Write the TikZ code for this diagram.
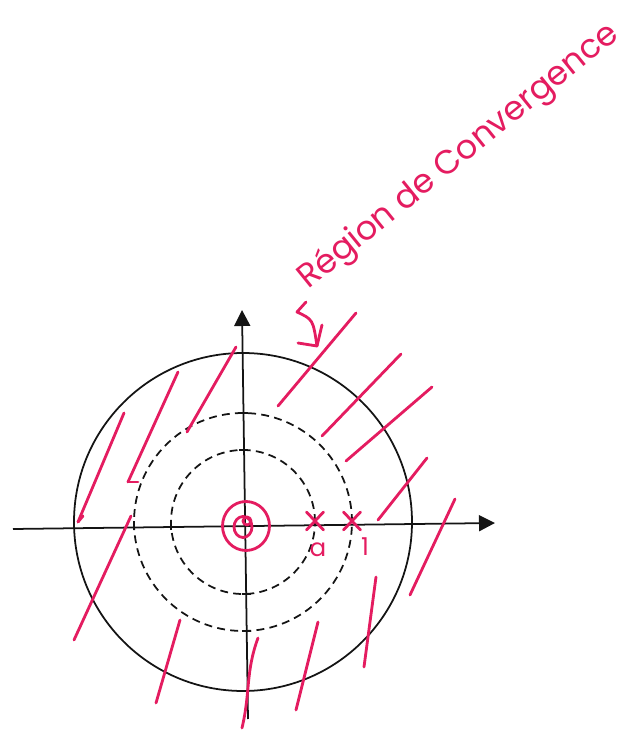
\documentclass[tikz,border=0pt]{standalone}
\usepackage{fontspec}
\newfontfamily\handfont{Poppins}
\usetikzlibrary{arrows.meta, positioning, calc}
\definecolor{inkpink}{RGB}{228, 28, 96}
\definecolor{penblack}{RGB}{20, 20, 20}
\tikzset{
    axisline/.style={line width=1pt, draw=penblack, -{Triangle[length=3.2mm, width=3.2mm]}},
    ringline/.style={line width=1pt, draw=penblack},
    dashring/.style={ringline, dash pattern=on 4.5pt off 3pt},
    tickline/.style={line width=1pt, draw=penblack},
    hatch/.style={line width=1.6pt, draw=inkpink, line cap=round, line join=round},
    handlabel/.style={font=\handfont\fontsize{14}{16}\selectfont, text=inkpink, inner sep=0pt},
    handtext/.style={font=\handfont\fontsize{19}{21}\selectfont, text=inkpink, inner sep=0pt},
}

\begin{document}
\begin{tikzpicture}
    \useasboundingbox (-4.86,-4.16) rectangle (7.64,10.44);

    % Axes
    \coordinate (xleft) at (-4.60,-0.14);
    \coordinate (xright) at (5.04,-0.02);
    \coordinate (ybottom) at (0.10,-3.94);
    \coordinate (ytop) at (-0.02,4.24);
    \draw[axisline] (xleft) -- (xright);
    \draw[axisline] (ybottom) -- (ytop);

    % Circles
    \coordinate (orig) at (0,0);
    \draw[ringline] (orig) circle (3.38);
    \draw[dashring] (orig) circle (2.18);
    \draw[dashring] (orig) circle (1.44);
    \foreach \r in {1.44, 2.18} {
        \draw[tickline] (-0.08,\r) -- (0.10,\r);
        \draw[tickline] (-0.02,-\r) -- (0.16,-\r);
        \draw[tickline] (-\r,-0.16) -- (-\r,0.02);
    }

    % Hatching
    \foreach \p/\q in {{-2.38,2.18}/{-3.30,0.00}, {-1.30,3.00}/{-2.30,0.80}, {-0.14,3.50}/{-1.12,1.80},
                       {2.26,4.18}/{0.70,2.32}, {3.16,3.36}/{1.58,1.72}, {3.78,2.70}/{2.06,1.22},
                       {3.68,1.28}/{2.70,0.04}, {4.24,0.46}/{3.34,-1.46}, {-2.24,0.12}/{-3.38,-2.36},
                       {-1.26,-1.96}/{-1.74,-3.62}, {1.50,-2.00}/{1.06,-3.76}, {2.66,-1.10}/{2.42,-2.90}}
        \draw[hatch] (\p) -- (\q);
    \draw[hatch] (0.30,-2.32) .. controls (0.05,-3.00) and (0.15,-3.40) .. (-0.02,-4.12);
    \draw[hatch] (-3.30,0.00) -- (-3.20,0.12);
    \draw[hatch] (-2.30,0.80) -- (-2.10,0.80);

    % Zero
    \draw[hatch] (0.08,0.02) circle (0.08);
    \draw[hatch] (0,-0.10) ellipse (0.18 and 0.21);
    \draw[hatch] (0.06,-0.08) ellipse (0.47 and 0.49);

    % Poles
    \foreach \c/\n in {1.44/pa, 2.18/pone} {
        \coordinate (\n) at (\c,0.02);
        \draw[hatch] ($(\n)+(-0.17,-0.18)$) -- ($(\n)+(0.17,0.18)$);
        \draw[hatch] ($(\n)+(-0.17,0.18)$) -- ($(\n)+(0.17,-0.18)$);
    }
    \node[handlabel] (lbla) at (1.50,-0.56) {a};
    \node[handlabel] (lblone) at (2.44,-0.50) {1};

    % Label
    \node[handtext, rotate=39, anchor=base west] (roc) at (1.30,4.64) {Région de Convergence};
    \coordinate (arrstart) at (1.26,4.40);
    \coordinate (arrtip) at (1.48,3.52);
    \draw[hatch] (arrstart) -- (1.08,4.20) .. controls (1.40,4.05) .. (arrtip);
    \draw[hatch] (1.10,3.58) -- (arrtip) -- (1.58,3.94);
\end{tikzpicture}
\end{document}
